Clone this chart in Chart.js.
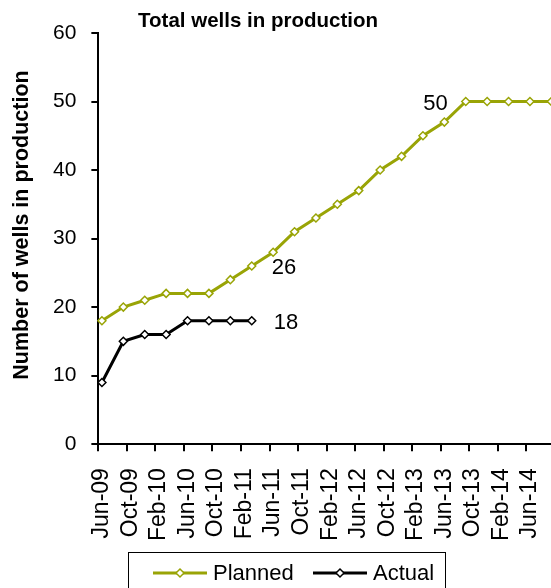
<!DOCTYPE html>
<html lang="en">
<head>
  <meta charset="UTF-8" />
  <title>Total wells in production</title>
  <script src="https://cdn.jsdelivr.net/npm/chart.js"></script>
  <style>
    html, body { margin: 0; padding: 0; background: #fff; overflow: hidden; }
    #wrap { width: 551px; height: 588px; overflow: hidden; }
  </style>
</head>
<body>
  <div id="wrap"><canvas id="wellsChart" width="596" height="588"></canvas></div>

  <script>
    // monthly axis, Jun-09 .. Sep-14
    const monthNames = ['Jan', 'Feb', 'Mar', 'Apr', 'May', 'Jun', 'Jul', 'Aug', 'Sep', 'Oct', 'Nov', 'Dec'];
    const categories = [];
    for (let m = 5; m < 5 + 64; m++) {
      categories.push(monthNames[m % 12] + '-' + String(9 + Math.floor(m / 12)).padStart(2, '0'));
    }

    const tickLabels = ['Jun-09', 'Oct-09', 'Feb-10', 'Jun-10', 'Oct-10', 'Feb-11', 'Jun-11', 'Oct-11',
                        'Feb-12', 'Jun-12', 'Oct-12', 'Feb-13', 'Jun-13', 'Oct-13', 'Feb-14', 'Jun-14'];

    const quarters = ['Jun-09', 'Sep-09', 'Dec-09', 'Mar-10', 'Jun-10', 'Sep-10', 'Dec-10', 'Mar-11',
                      'Jun-11', 'Sep-11', 'Dec-11', 'Mar-12', 'Jun-12', 'Sep-12', 'Dec-12', 'Mar-13',
                      'Jun-13', 'Sep-13', 'Dec-13', 'Mar-14', 'Jun-14', 'Sep-14'];
    const planned = [18, 20, 21, 22, 22, 22, 24, 26, 28, 31, 33, 35, 37, 40, 42, 45, 47, 50, 50, 50, 50, 50];
    const actual  = [9, 15, 16, 16, 18, 18, 18, 18];

    const yTicks = [0, 10, 20, 30, 40, 50, 60];

    const OLIVE = '#99a406';
    const FONT = 'Arial, "Liberation Sans", sans-serif';

    // chart title and y-axis title, placed like the original
    const titlesPlugin = {
      id: 'titles',
      afterDraw(chart) {
        const ctx = chart.ctx;
        ctx.save();
        ctx.fillStyle = '#000';
        ctx.textAlign = 'center';
        ctx.font = 'bold 20.5px ' + FONT;
        ctx.textBaseline = 'alphabetic';
        ctx.fillText('Total wells in production', 258, 27);
        ctx.translate(22, 225);
        ctx.rotate(-Math.PI / 2);
        ctx.font = 'bold 21.5px ' + FONT;
        ctx.textBaseline = 'middle';
        ctx.fillText('Number of wells in production', 0, 0);
        ctx.restore();
      }
    };

    // value labels next to a few points
    const pointLabels = {
      id: 'pointLabels',
      afterDatasetsDraw(chart) {
        const ctx = chart.ctx;
        ctx.save();
        ctx.font = '22px ' + FONT;
        ctx.fillStyle = '#000';
        ctx.textBaseline = 'middle';
        [[0, 7, 'left', 20], [1, 7, 'left', 22], [0, 17, 'right', -18]].forEach(([d, i, align, dx]) => {
          const pt = chart.getDatasetMeta(d).data[i];
          ctx.textAlign = align;
          ctx.fillText(String(chart.data.datasets[d].data[i].y), pt.x + dx, pt.y + 2);
        });
        ctx.restore();
      }
    };

    // boxed legend with line + diamond swatches
    const boxLegend = {
      id: 'boxLegend',
      afterDraw(chart) {
        const ctx = chart.ctx;
        const items = [{ ds: 0, x: 153 }, { ds: 1, x: 313 }];
        const y = 573;
        ctx.save();
        ctx.strokeStyle = '#000';
        ctx.lineWidth = 1;
        ctx.strokeRect(128.5, 552.5, 317, 60);
        ctx.font = '22px ' + FONT;
        ctx.textBaseline = 'middle';
        ctx.textAlign = 'left';
        items.forEach(it => {
          const ds = chart.data.datasets[it.ds];
          ctx.strokeStyle = ds.borderColor;
          ctx.lineWidth = 3;
          ctx.beginPath();
          ctx.moveTo(it.x, y);
          ctx.lineTo(it.x + 54, y);
          ctx.stroke();
          ctx.lineWidth = 1.5;
          ctx.fillStyle = '#fff';
          ctx.beginPath();
          ctx.moveTo(it.x + 27, y - 4);
          ctx.lineTo(it.x + 31, y);
          ctx.lineTo(it.x + 27, y + 4);
          ctx.lineTo(it.x + 23, y);
          ctx.closePath();
          ctx.fill();
          ctx.stroke();
          ctx.fillStyle = '#000';
          ctx.fillText(ds.label, it.x + 60, y + 1);
        });
        ctx.restore();
      }
    };

    new Chart(document.getElementById('wellsChart'), {
      type: 'line',
      data: {
        labels: categories,
        datasets: [{
          label: 'Planned',
          data: quarters.map((q, i) => ({ x: q, y: planned[i] })),
          borderColor: OLIVE,
          borderWidth: 3,
          pointStyle: 'rectRot',
          pointRadius: 4,
          pointBorderWidth: 1.5,
          pointBackgroundColor: '#fff',
          pointBorderColor: OLIVE,
          tension: 0
        }, {
          label: 'Actual',
          data: actual.map((v, i) => ({ x: quarters[i], y: v })),
          borderColor: '#000',
          borderWidth: 3,
          pointStyle: 'rectRot',
          pointRadius: 4,
          pointBorderWidth: 1.5,
          pointBackgroundColor: '#fff',
          pointBorderColor: '#000',
          tension: 0
        }]
      },
      options: {
        responsive: false,
        animation: false,
        layout: { padding: { top: 33, left: 38, right: 2, bottom: 30 } },
        plugins: {
          legend: { display: false },
          title: { display: false },
          tooltip: { enabled: false }
        },
        scales: {
          x: {
            type: 'category',
            offset: true,
            border: { display: true, color: '#000', width: 2 },
            grid: {
              offset: true,
              drawOnChartArea: false,
              drawTicks: true,
              tickLength: 7,
              lineWidth: 2,
              color: ctx => tickLabels.includes(categories[ctx.index]) ? '#000' : 'rgba(0,0,0,0)'
            },
            ticks: {
              autoSkip: false,
              minRotation: 90,
              maxRotation: 90,
              padding: 17,
              color: '#000',
              font: { family: FONT, size: 23 },
              callback: function (value) {
                const lab = this.getLabelForValue(value);
                return tickLabels.includes(lab) ? lab : '';
              }
            }
          },
          y: {
            min: yTicks[0],
            max: yTicks[yTicks.length - 1],
            border: { display: true, color: '#000', width: 2 },
            grid: { drawOnChartArea: false, tickLength: 7, lineWidth: 2, color: '#000' },
            ticks: {
              stepSize: 10,
              padding: 15,
              color: '#000',
              font: { family: FONT, size: 21 }
            }
          }
        }
      },
      plugins: [titlesPlugin, pointLabels, boxLegend]
    });
  </script>
</body>
</html>
